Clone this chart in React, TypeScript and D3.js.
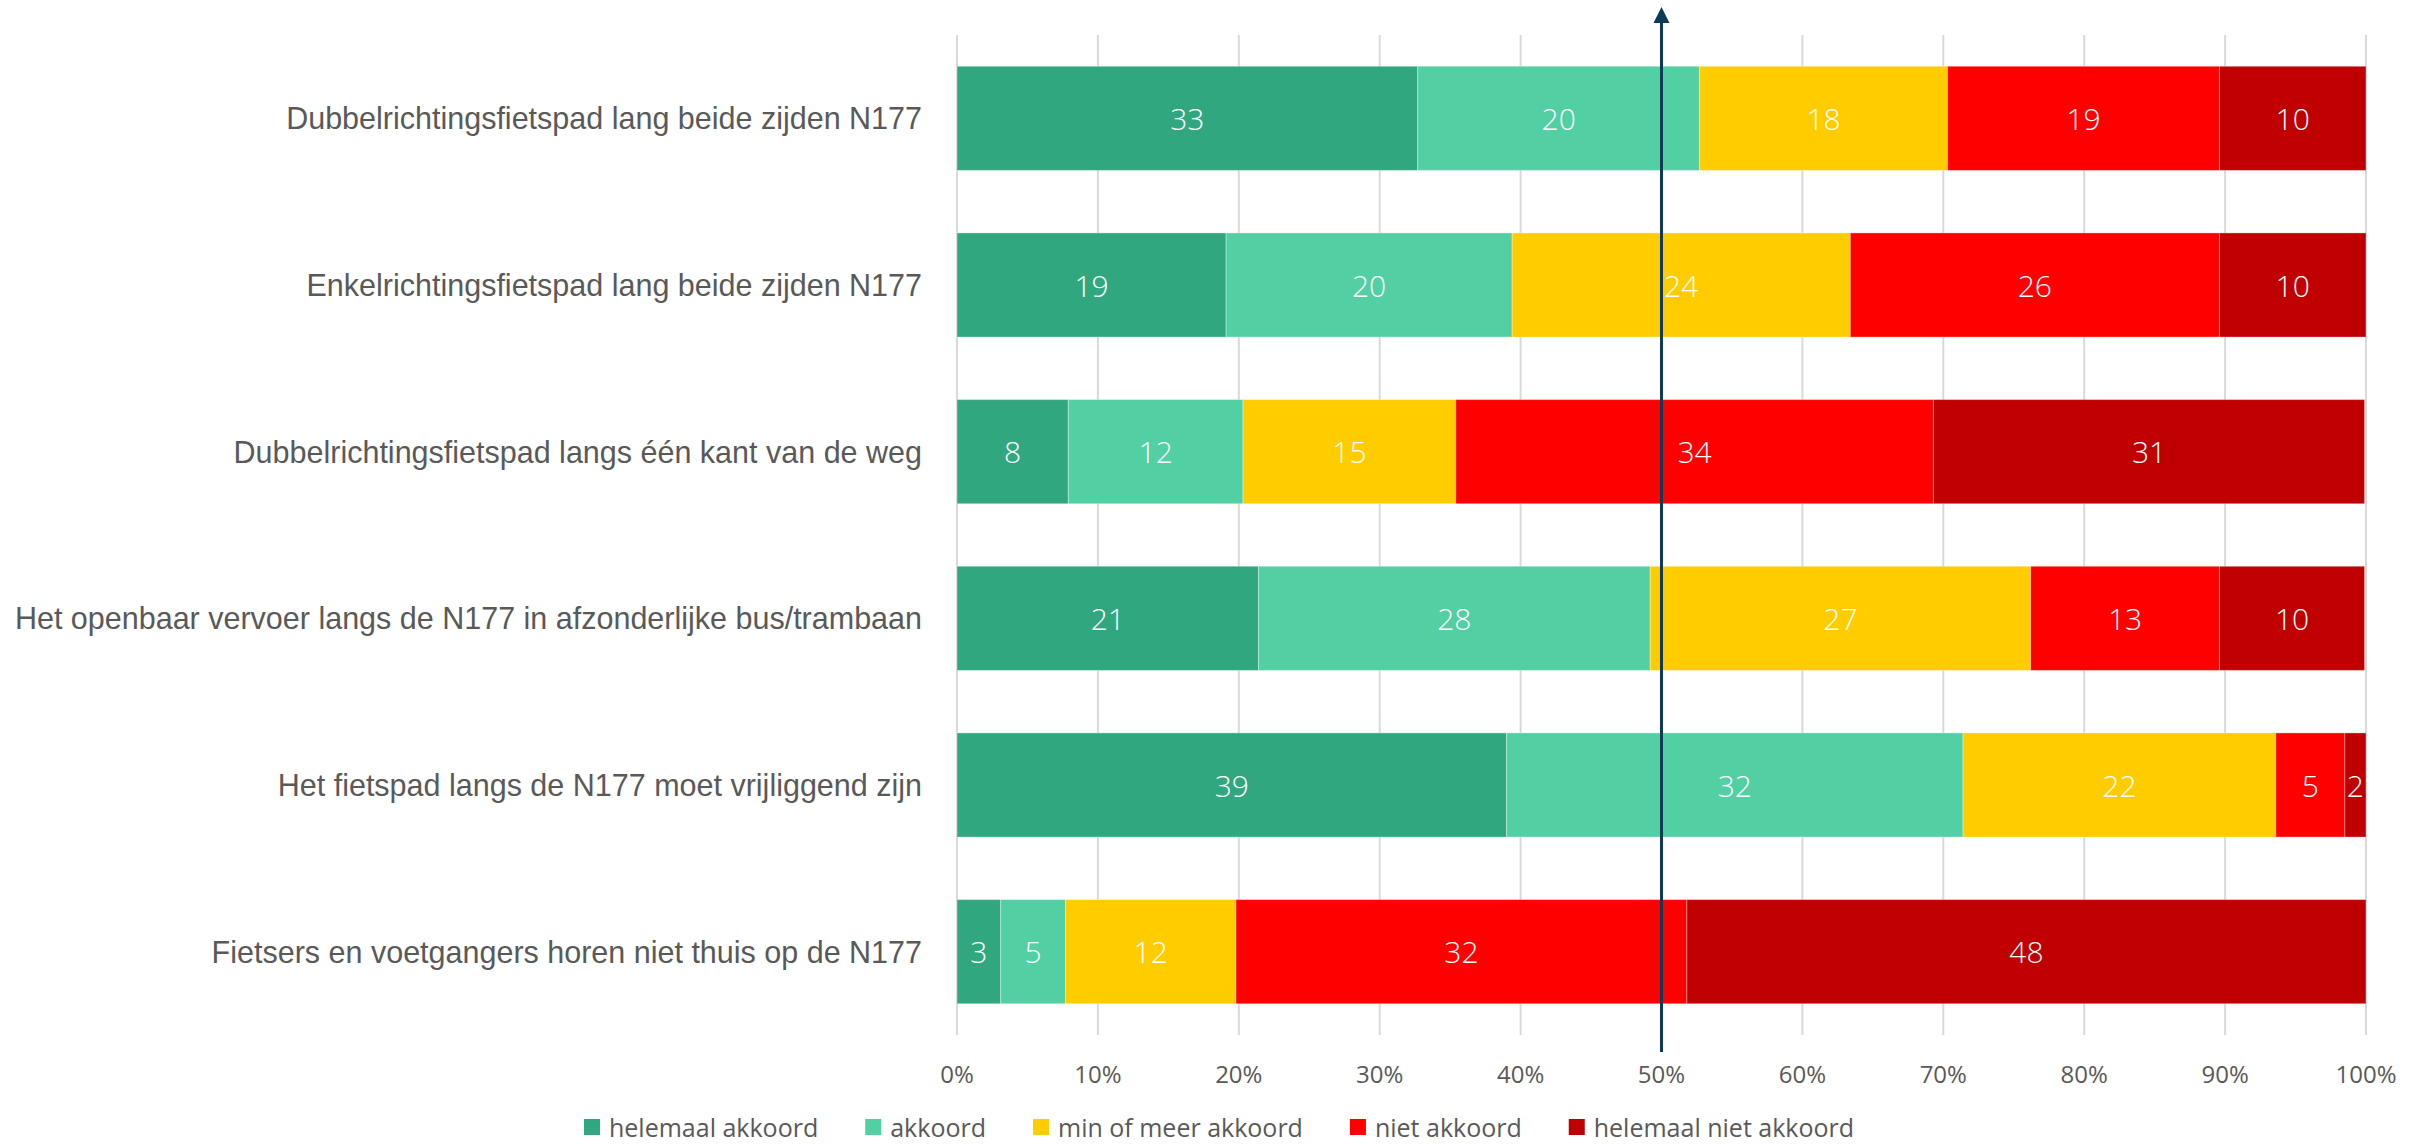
import React, { useEffect, useRef } from "react";
import * as d3 from "d3";

const categories = [
  "Dubbelrichtingsfietspad lang beide zijden N177",
  "Enkelrichtingsfietspad lang beide zijden N177",
  "Dubbelrichtingsfietspad langs één kant van de weg",
  "Het openbaar vervoer langs de N177 in afzonderlijke bus/trambaan",
  "Het fietspad langs de N177 moet vrijliggend zijn",
  "Fietsers en voetgangers horen niet thuis op de N177",
];

const seriesNames = [
  "helemaal akkoord",
  "akkoord",
  "min of meer akkoord",
  "niet akkoord",
  "helemaal niet akkoord",
];

const helemaalAkkoord = [32.7, 19.1, 7.9, 21.4, 39.0, 3.1];
const akkoord = [20.0, 20.3, 12.4, 27.8, 32.4, 4.6];
const minOfMeerAkkoord = [17.6, 24.0, 15.1, 27.0, 22.2, 12.1];
const nietAkkoord = [19.3, 26.2, 33.9, 13.4, 4.9, 32.0];
const helemaalNietAkkoord = [10.4, 10.4, 30.6, 10.3, 1.5, 48.2];

const seriesColors = ["#31A77F", "#52CFA3", "#FFCC00", "#FF0000", "#C00000"];

const xTicks = [0, 10, 20, 30, 40, 50, 60, 70, 80, 90, 100];
const referenceValue = 50;

export default function App() {
  const ref = useRef<SVGSVGElement | null>(null);

  useEffect(() => {
    const svg = d3.select(ref.current);
    svg.selectAll("*").remove();

    const x = d3.scaleLinear().domain([0, 100]).range([957, 2366]);
    const y = d3
      .scaleBand<string>()
      .domain(categories)
      .range([35, 1035])
      .paddingInner(0.375)
      .paddingOuter(0.1875);

    const series = [helemaalAkkoord, akkoord, minOfMeerAkkoord, nietAkkoord, helemaalNietAkkoord];
    const rows = categories.map((c, i) => {
      const r: any = { cat: c };
      seriesNames.forEach((s, j) => (r[s] = series[j][i]));
      return r;
    });
    const stacked = d3.stack<any>().keys(seriesNames)(rows);

    // gridlines
    svg
      .append("g")
      .selectAll("line")
      .data(xTicks)
      .join("line")
      .attr("x1", (d) => x(d))
      .attr("x2", (d) => x(d))
      .attr("y1", 35)
      .attr("y2", 1035)
      .attr("stroke", "#D9D9D9")
      .attr("stroke-width", 2);

    // bars
    const gBars = svg.append("g");
    stacked.forEach((layer, li) => {
      gBars
        .append("g")
        .selectAll("rect")
        .data(layer)
        .join("rect")
        .attr("x", (d) => x(d[0]))
        .attr("width", (d) => x(d[1]) - x(d[0]))
        .attr("y", (d) => y(d.data.cat)!)
        .attr("height", y.bandwidth())
        .attr("fill", seriesColors[li])
        .attr("stroke", "rgba(255,255,255,0.35)")
        .attr("stroke-width", 1);
    });

    // data labels
    const fmt = d3.format(".0f");
    stacked.forEach((layer) => {
      svg
        .append("g")
        .selectAll("text")
        .data(layer)
        .join("text")
        .attr("x", (d) => (x(d[0]) + x(d[1])) / 2)
        .attr("y", (d) => y(d.data.cat)! + y.bandwidth() / 2)
        .attr("text-anchor", "middle")
        .attr("dominant-baseline", "central")
        .attr("fill", "#FFFFFF")
        .attr("font-family", "'Open Sans', 'Noto Sans', sans-serif")
        .attr("font-weight", 300)
        .attr("font-size", 30)
        .text((d) => fmt(d[1] - d[0]));
    });

    // category labels
    svg
      .append("g")
      .selectAll("text")
      .data(categories)
      .join("text")
      .attr("x", 922)
      .attr("y", (d) => y(d)! + y.bandwidth() / 2)
      .attr("text-anchor", "end")
      .attr("dominant-baseline", "central")
      .attr("fill", "#595959")
      .attr("font-family", "'Liberation Sans', Arial, sans-serif")
      .attr("font-size", 30.5)
      .text((d) => d);

    // x tick labels
    svg
      .append("g")
      .selectAll("text")
      .data(xTicks)
      .join("text")
      .attr("x", (d) => x(d))
      .attr("y", 1073)
      .attr("text-anchor", "middle")
      .attr("dominant-baseline", "central")
      .attr("fill", "#595959")
      .attr("font-family", "'Open Sans', 'Noto Sans', sans-serif")
      .attr("font-size", 24)
      .text((d) => d + "%");

    // reference arrow at 50%
    const ax = x(referenceValue);
    svg
      .append("line")
      .attr("x1", ax)
      .attr("x2", ax)
      .attr("y1", 20)
      .attr("y2", 1052)
      .attr("stroke", "#0E3A5A")
      .attr("stroke-width", 3);
    svg
      .append("path")
      .attr("d", `M${ax},7 L${ax - 8},23 L${ax + 8},23 Z`)
      .attr("fill", "#0E3A5A");

    // legend
    const lg = svg.append("g");
    let cx = 584;
    const ly = 1127;
    seriesNames.forEach((s, i) => {
      lg.append("rect")
        .attr("x", cx)
        .attr("y", ly - 8)
        .attr("width", 16)
        .attr("height", 16)
        .attr("fill", seriesColors[i]);
      const t = lg
        .append("text")
        .attr("x", cx + 25)
        .attr("y", ly)
        .attr("dominant-baseline", "central")
        .attr("fill", "#595959")
        .attr("font-family", "'Open Sans', 'Noto Sans', sans-serif")
        .attr("font-size", 25)
        .text(s);
      const w = (t.node() as SVGTextElement).getComputedTextLength();
      cx = cx + 25 + w + 47;
    });
  }, []);

  return (
    <svg
      ref={ref}
      width={2418}
      height={1145}
      style={{ position: "absolute", left: 0, top: 0, background: "#fff" }}
    />
  );
}
